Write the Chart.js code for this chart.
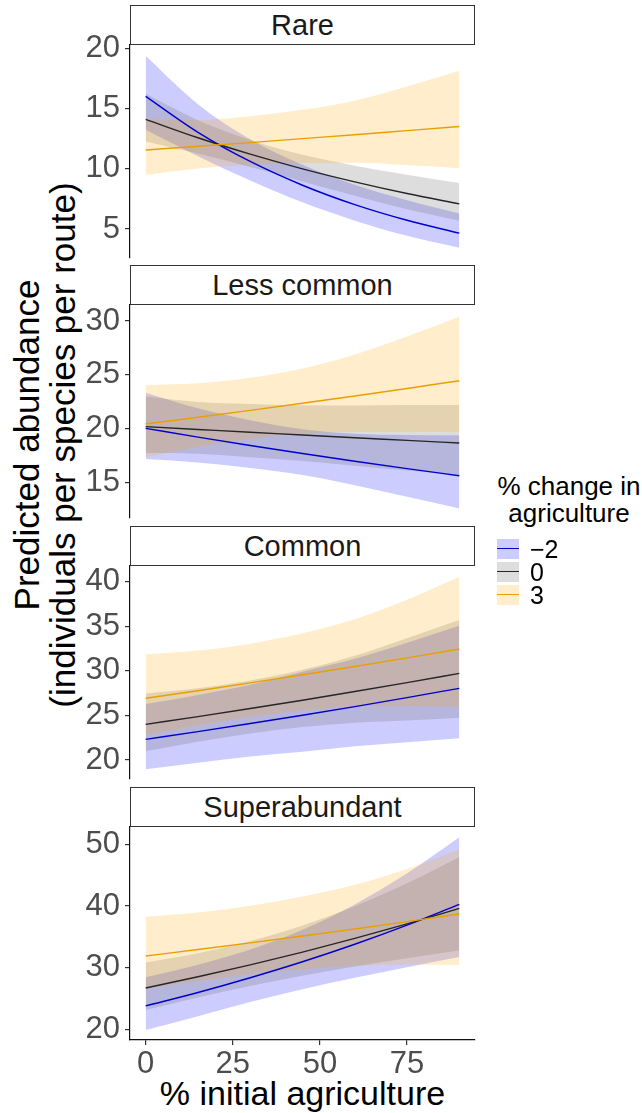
<!DOCTYPE html>
<html>
<head>
<meta charset="utf-8">
<script src="https://cdn.jsdelivr.net/npm/chart.js@4/dist/chart.umd.min.js"></script>
<style>
  body { margin: 0; background: #fff; }
  #page { position: relative; width: 642px; height: 1113px; font-family: 'Liberation Sans', Arial, sans-serif; color: #000; }
  .panel { position: absolute; left: 0; }
  .strip { position: absolute; left: 130px; width: 345px; height: 40px; box-sizing: border-box;
           border: 1.3px solid #333; background: #fff; text-align: center; font-size: 29px; line-height: 38px; color: #1a1a1a; }
  #ytitle { position: absolute; left: 45px; top: 445px; width: 600px; transform: translate(-50%, -50%) rotate(-90deg);
            text-align: center; font-size: 35px; line-height: 36px; white-space: nowrap; }
  #xtitle { position: absolute; left: 130px; width: 345px; top: 1076px; text-align: center; font-size: 34px; line-height: 34px; white-space: nowrap; }
  #legend-title { position: absolute; left: 496px; top: 473px; width: 146px; text-align: center; font-size: 26px; line-height: 27px; }
  .key { position: absolute; left: 497px; width: 22px; height: 20px; }
  .key i { position: absolute; left: 0; right: 0; top: 9px; height: 1.4px; }
  .key-label { position: absolute; left: 530px; font-size: 25px; line-height: 24px; }
</style>
</head>
<body>
<div id="page">
  <div id="ytitle">Predicted abundance<br>(individuals per species per route)</div>
  <div id="xtitle">% initial agriculture</div>
  <div id="legend-title">% change in<br>agriculture</div>
</div>
<script>
// x positions where the fitted curves are read
const AGRI = [0, 15, 30, 45, 60, 75, 90];

// Rare
const rareFitM2 = [16.00, 13.02, 10.60, 8.63, 7.02, 5.72, 4.65];
const rareLoM2  = [13.23, 11.04, 9.03, 7.21, 5.69, 4.43, 3.44];
const rareHiM2  = [19.35, 15.35, 12.44, 10.33, 8.66, 7.38, 6.28];
const rareFit0  = [14.10, 12.57, 11.21, 9.99, 8.91, 7.94, 7.08];
const rareLo0   = [12.26, 11.26, 10.14, 8.95, 7.75, 6.63, 5.68];
const rareHi0   = [16.22, 14.03, 12.39, 11.15, 10.25, 9.50, 8.82];
const rareFit3  = [11.56, 11.86, 12.17, 12.50, 12.82, 13.16, 13.50];
const rareLo3   = [9.47, 10.01, 10.32, 10.50, 10.50, 10.30, 10.05];
const rareHi3   = [14.12, 14.05, 14.35, 14.89, 15.65, 16.82, 18.13];

// Less common
const lcFitM2 = [20.04, 19.23, 18.45, 17.71, 16.99, 16.31, 15.65];
const lcLoM2  = [17.20, 16.88, 16.36, 15.71, 14.77, 13.69, 12.62];
const lcHiM2  = [23.35, 21.90, 20.80, 19.97, 19.54, 19.43, 19.41];
const lcFit0  = [20.20, 19.94, 19.68, 19.43, 19.17, 18.93, 18.68];
const lcLo0   = [17.75, 17.69, 17.37, 17.01, 16.58, 16.13, 15.71];
const lcHi0   = [22.99, 22.48, 22.30, 22.19, 22.16, 22.21, 22.21];
const lcFit3  = [20.45, 21.07, 21.71, 22.37, 23.04, 23.74, 24.46];
const lcLo3   = [17.37, 18.32, 19.06, 19.55, 19.73, 19.73, 19.69];
const lcHi3   = [24.07, 24.23, 24.73, 25.60, 26.90, 28.56, 30.38];

// Common
const cmFitM2 = [22.32, 23.19, 24.09, 25.02, 25.99, 27.00, 28.04];
const cmLoM2  = [18.96, 19.70, 20.40, 20.93, 21.55, 22.00, 22.43];
const cmHiM2  = [26.27, 27.30, 28.45, 29.91, 31.35, 33.14, 35.05];
const cmFit0  = [24.00, 24.87, 25.78, 26.71, 27.68, 28.68, 29.72];
const cmLo0   = [20.97, 22.06, 22.98, 23.69, 24.19, 24.44, 24.75];
const cmHi0   = [27.47, 28.04, 28.92, 30.12, 31.68, 33.66, 35.69];
const cmFit3  = [26.92, 27.77, 28.65, 29.56, 30.49, 31.46, 32.45];
const cmLo3   = [22.76, 23.90, 24.83, 25.54, 25.98, 26.07, 25.96];
const cmHi3   = [31.85, 32.27, 33.05, 34.21, 35.78, 37.97, 40.56];

// Superabundant
const saFitM2 = [23.80, 25.98, 28.37, 30.96, 33.80, 36.90, 40.27];
const saLoM2  = [19.90, 22.14, 24.42, 26.51, 28.37, 30.06, 31.71];
const saHiM2  = [28.46, 30.49, 32.96, 36.15, 40.26, 45.29, 51.14];
const saFit0  = [26.70, 28.52, 30.45, 32.52, 34.74, 37.10, 39.62];
const saLo0   = [23.13, 25.17, 27.01, 28.70, 30.20, 31.52, 32.77];
const saHi0   = [30.82, 32.32, 34.33, 36.85, 39.96, 43.67, 47.91];
const saFit3  = [31.89, 32.94, 34.02, 35.13, 36.28, 37.47, 38.70];
const saLo3   = [26.58, 27.85, 28.90, 29.70, 30.30, 30.53, 30.44];
const saHi3   = [38.26, 38.96, 40.04, 41.56, 43.43, 45.99, 49.19];

const PANEL_NAMES = ['Rare', 'Less common', 'Common', 'Superabundant'];
const Y_MIN  = [2.59, 11.73, 17.87, 18.27];
const Y_MAX  = [20.27, 31.48, 41.76, 52.81];
const Y_STEP = [5, 5, 5, 10];
const X_TICK_STEP = 25;
const CHANGE_LABELS = ['\u22122', '0', '3'];

// ── style
const FONT       = "'Liberation Sans', Arial, sans-serif";
const TICK_COL   = '#4d4d4d';
const LINE_COLS  = ['#0000cd', '#262626', '#e8a000'];
const BAND_COLS  = ['rgba(0,0,255,0.2)', 'rgba(100,100,100,0.22)', 'rgba(255,165,0,0.2)'];
const STRIP_TOP  = [5, 265, 526, 787];
const PLOT_H     = 213;
const PAD        = 28;
const X_AXIS_H   = 45;

const fits = [[rareFitM2, rareFit0, rareFit3], [lcFitM2, lcFit0, lcFit3], [cmFitM2, cmFit0, cmFit3], [saFitM2, saFit0, saFit3]];
const los  = [[rareLoM2, rareLo0, rareLo3], [lcLoM2, lcLo0, lcLo3], [cmLoM2, cmLo0, cmLo3], [saLoM2, saLo0, saLo3]];
const his  = [[rareHiM2, rareHi0, rareHi3], [lcHiM2, lcHi0, lcHi3], [cmHiM2, cmHi0, cmHi3], [saHiM2, saHi0, saHi3]];

function pts(ys) { return AGRI.map((x, i) => ({ x, y: ys[i] })); }

const hidden = 'rgba(0,0,0,0)';

function datasets(p) {
  const ds = [];
  // ribbons: orange first so it lands on top (filler paints from the last index)
  for (let s = 2; s >= 0; s--) {
    ds.push({ data: pts(his[p][s]), fill: '+1', backgroundColor: BAND_COLS[s], borderColor: hidden, borderWidth: 0, pointRadius: 0, cubicInterpolationMode: 'monotone' });
    ds.push({ data: pts(los[p][s]), fill: false, borderColor: hidden, borderWidth: 0, pointRadius: 0, cubicInterpolationMode: 'monotone' });
  }
  // fitted lines, orange on top
  for (let s = 2; s >= 0; s--) {
    ds.push({ data: pts(fits[p][s]), fill: false, borderColor: LINE_COLS[s], borderWidth: 1.4, pointRadius: 0, cubicInterpolationMode: 'monotone' });
  }
  return ds;
}

function axisTicks(size) {
  return { color: TICK_COL, font: { family: FONT, size }, includeBounds: false };
}

const page = document.getElementById('page');

PANEL_NAMES.forEach((name, p) => {
  const last = p === PANEL_NAMES.length - 1;
  const plotTop = STRIP_TOP[p] + 40;

  const strip = document.createElement('div');
  strip.className = 'strip';
  strip.style.top = STRIP_TOP[p] + 'px';
  strip.textContent = name;
  page.appendChild(strip);

  const wrap = document.createElement('div');
  wrap.className = 'panel';
  wrap.style.top = (plotTop - PAD) + 'px';
  const cv = document.createElement('canvas');
  cv.width = 490;
  cv.height = PAD + PLOT_H + (last ? X_AXIS_H : PAD);
  wrap.appendChild(cv);
  page.appendChild(wrap);

  new Chart(cv, {
    type: 'line',
    data: { datasets: datasets(p) },
    options: {
      responsive: false,
      animation: false,
      events: [],
      layout: { padding: { top: PAD, bottom: last ? 0 : PAD, left: 0, right: 15 } },
      plugins: { legend: { display: false }, tooltip: { enabled: false }, filler: { drawTime: 'beforeDatasetsDraw' } },
      scales: {
        x: {
          type: 'linear', min: -4.5, max: 94.5, display: last,
          ticks: { ...axisTicks(31), stepSize: X_TICK_STEP, padding: 1 },
          grid: { drawOnChartArea: false, drawTicks: true, tickLength: 5, color: '#333', lineWidth: 1.2 },
          border: { display: true, color: '#111', width: 1.2 },
          // only the bottom panel keeps room for the x axis
          afterFit: s => { s.height = last ? X_AXIS_H : 0; }
        },
        y: {
          type: 'linear', min: Y_MIN[p], max: Y_MAX[p],
          ticks: { ...axisTicks(31), stepSize: Y_STEP[p], padding: 5 },
          grid: { drawOnChartArea: false, drawTicks: true, tickLength: 5, color: '#333', lineWidth: 1.2 },
          border: { display: true, color: '#111', width: 1.2 },
          afterFit: s => { s.width = 130; }
        }
      }
    }
  });
});

// ── legend keys
const KEY_TOP = [539, 562, 585];
CHANGE_LABELS.forEach((lab, s) => {
  const key = document.createElement('div');
  key.className = 'key';
  key.style.top = KEY_TOP[s] + 'px';
  key.style.background = BAND_COLS[s];
  const stroke = document.createElement('i');
  stroke.style.background = LINE_COLS[s];
  key.appendChild(stroke);
  page.appendChild(key);

  const txt = document.createElement('div');
  txt.className = 'key-label';
  txt.style.top = (KEY_TOP[s] - 2) + 'px';
  txt.textContent = lab;
  page.appendChild(txt);
});
</script>
</body>
</html>
